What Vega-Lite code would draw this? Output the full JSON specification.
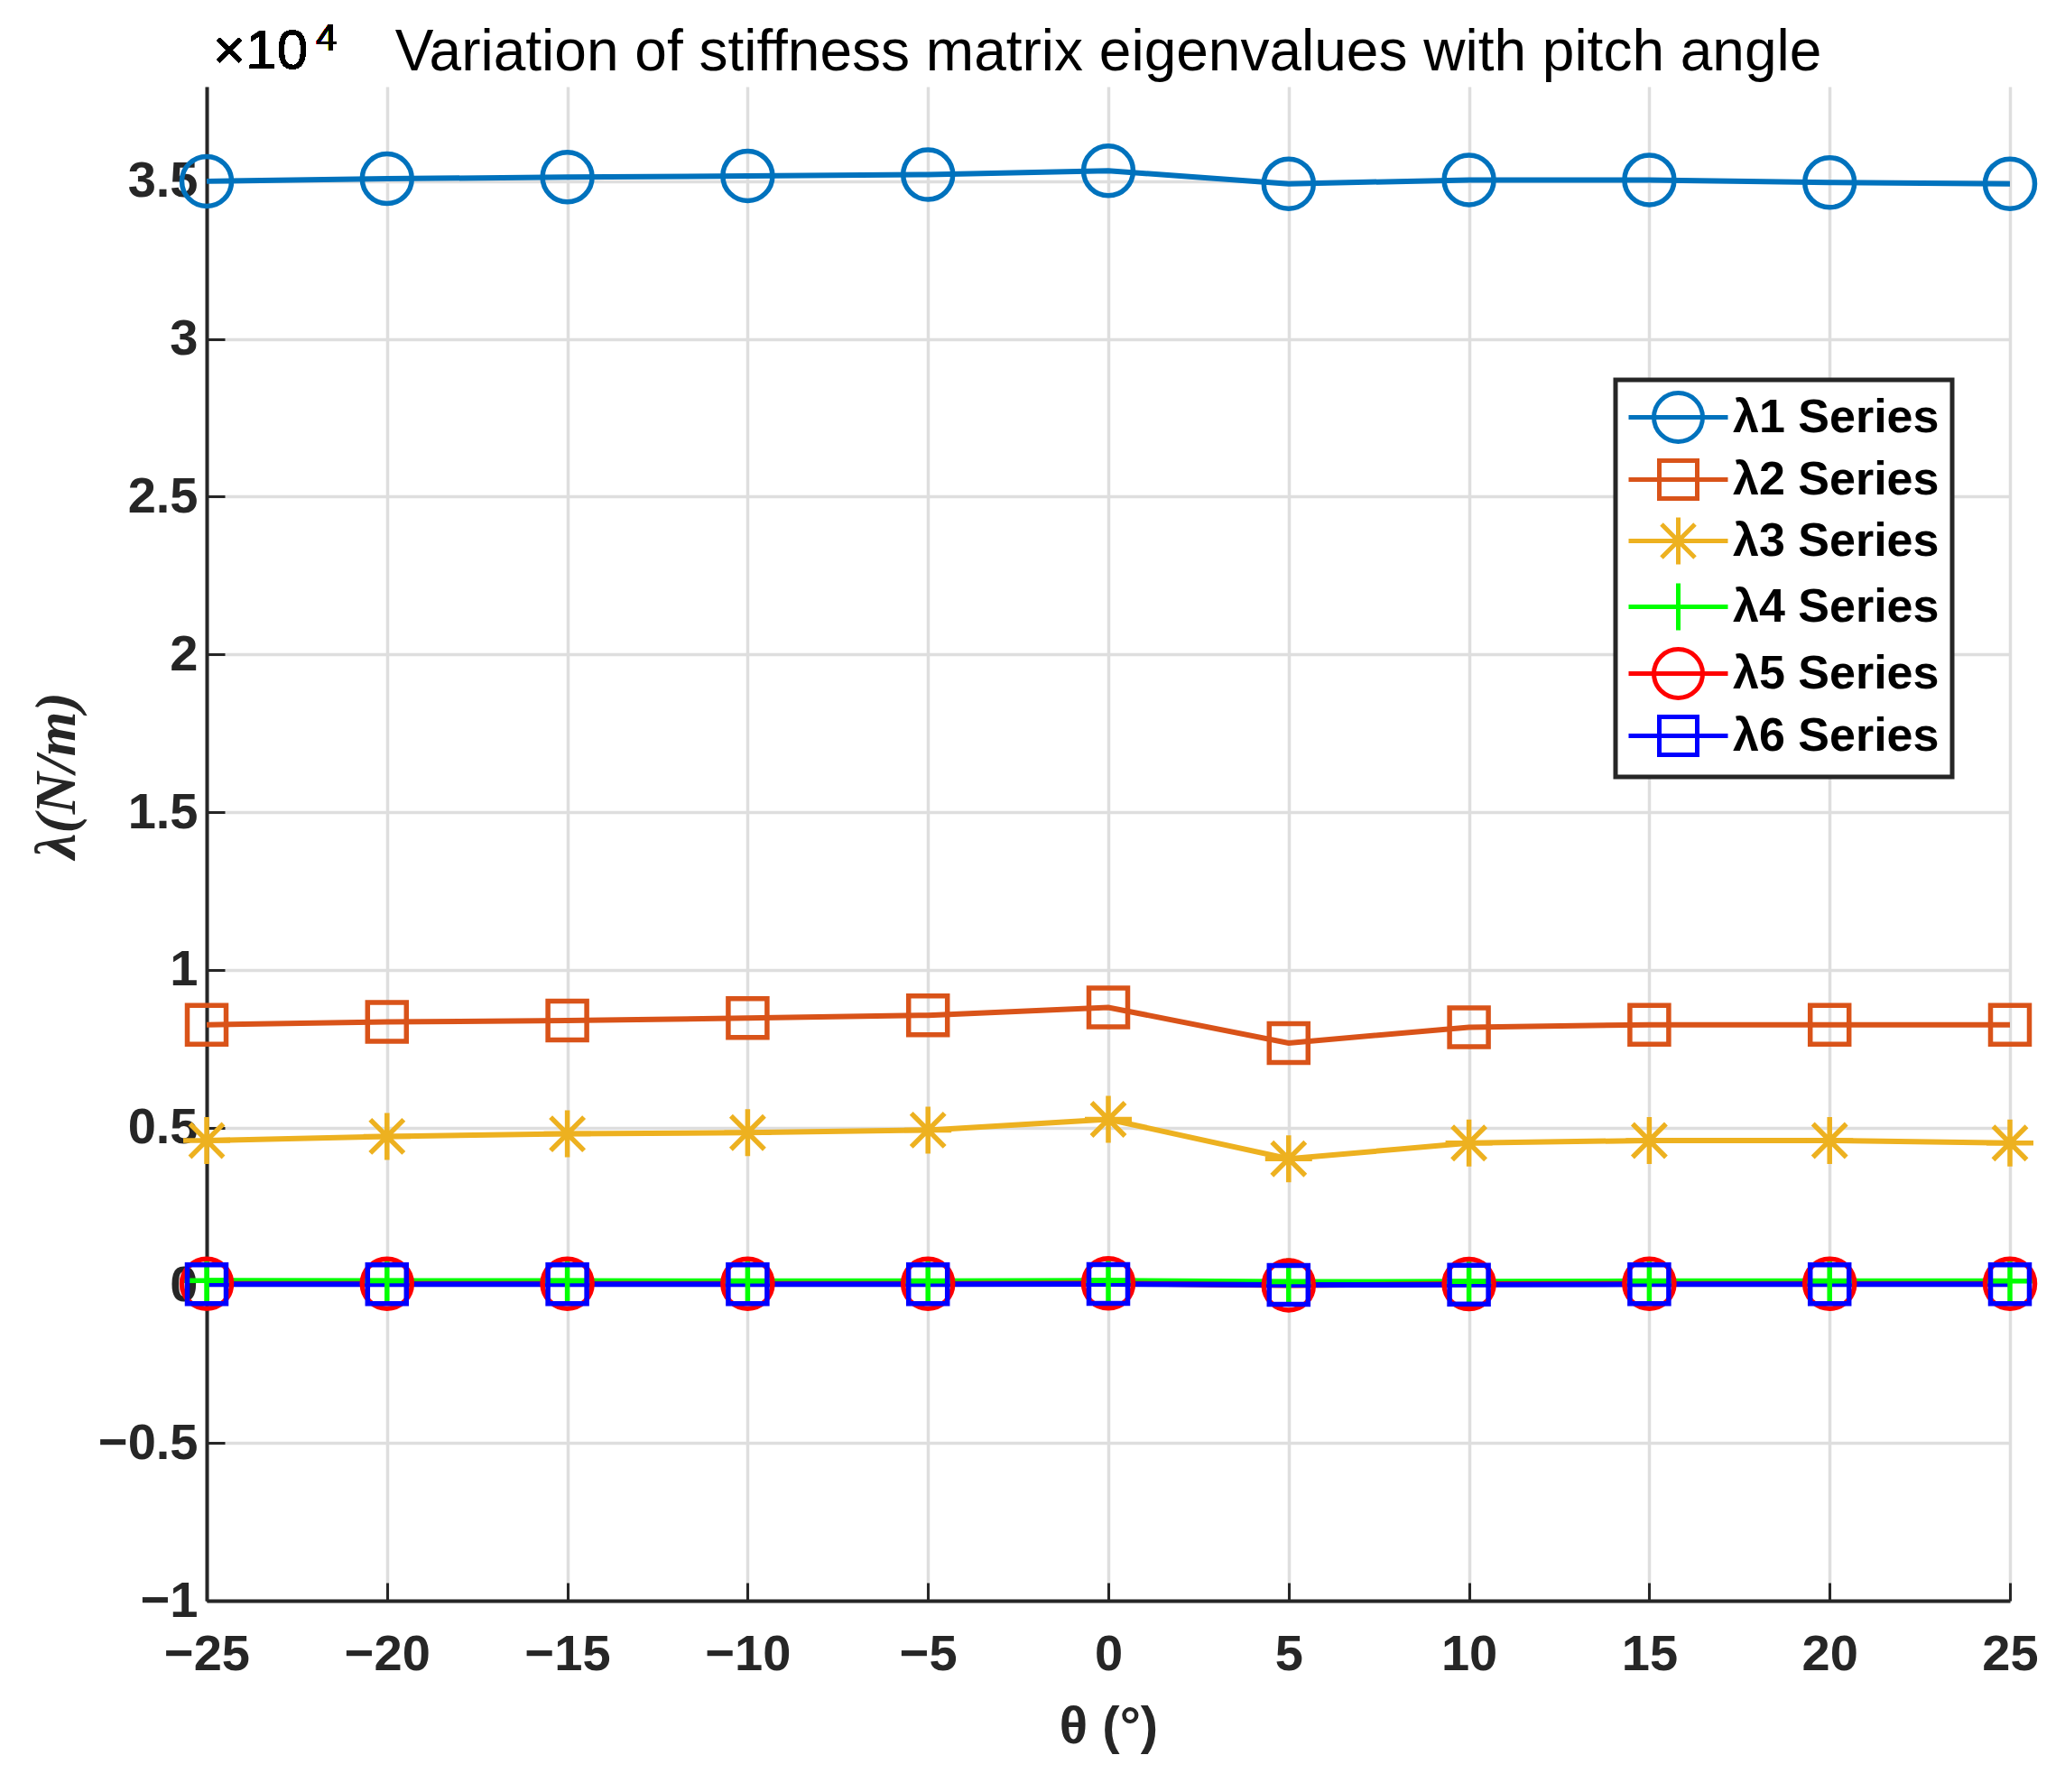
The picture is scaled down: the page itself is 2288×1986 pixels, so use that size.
{
  "$schema": "https://vega.github.io/schema/vega-lite/v6.json",
  "width": 1998,
  "height": 1678,
  "autosize": {"type": "none"},
  "padding": {"left": 229, "top": 96, "right": 61, "bottom": 212},
  "background": "white",
  "title": {
    "text": "Variation of stiffness matrix eigenvalues with pitch angle",
    "font": "Liberation Sans",
    "fontSize": 64,
    "fontWeight": "normal",
    "color": "black",
    "baseline": "alphabetic",
    "offset": -120
  },
  "data": {
    "values": [
      {"theta": -25, "series": "λ1 Series", "lambda": 35000},
      {"theta": -20, "series": "λ1 Series", "lambda": 35080},
      {"theta": -15, "series": "λ1 Series", "lambda": 35130},
      {"theta": -10, "series": "λ1 Series", "lambda": 35170},
      {"theta": -5, "series": "λ1 Series", "lambda": 35210},
      {"theta": 0, "series": "λ1 Series", "lambda": 35330},
      {"theta": 5, "series": "λ1 Series", "lambda": 34920},
      {"theta": 10, "series": "λ1 Series", "lambda": 35040},
      {"theta": 15, "series": "λ1 Series", "lambda": 35040},
      {"theta": 20, "series": "λ1 Series", "lambda": 34960},
      {"theta": 25, "series": "λ1 Series", "lambda": 34920},
      {"theta": -25, "series": "λ2 Series", "lambda": 8260},
      {"theta": -20, "series": "λ2 Series", "lambda": 8350},
      {"theta": -15, "series": "λ2 Series", "lambda": 8390},
      {"theta": -10, "series": "λ2 Series", "lambda": 8470},
      {"theta": -5, "series": "λ2 Series", "lambda": 8560},
      {"theta": 0, "series": "λ2 Series", "lambda": 8810},
      {"theta": 5, "series": "λ2 Series", "lambda": 7680},
      {"theta": 10, "series": "λ2 Series", "lambda": 8180},
      {"theta": 15, "series": "λ2 Series", "lambda": 8260},
      {"theta": 20, "series": "λ2 Series", "lambda": 8260},
      {"theta": 25, "series": "λ2 Series", "lambda": 8260},
      {"theta": -25, "series": "λ3 Series", "lambda": 4590},
      {"theta": -20, "series": "λ3 Series", "lambda": 4720},
      {"theta": -15, "series": "λ3 Series", "lambda": 4800},
      {"theta": -10, "series": "λ3 Series", "lambda": 4840},
      {"theta": -5, "series": "λ3 Series", "lambda": 4920},
      {"theta": 0, "series": "λ3 Series", "lambda": 5260},
      {"theta": 5, "series": "λ3 Series", "lambda": 4010},
      {"theta": 10, "series": "λ3 Series", "lambda": 4510},
      {"theta": 15, "series": "λ3 Series", "lambda": 4590},
      {"theta": 20, "series": "λ3 Series", "lambda": 4590},
      {"theta": 25, "series": "λ3 Series", "lambda": 4510},
      {"theta": -25, "series": "λ4 Series", "lambda": 150},
      {"theta": -20, "series": "λ4 Series", "lambda": 140},
      {"theta": -15, "series": "λ4 Series", "lambda": 140},
      {"theta": -10, "series": "λ4 Series", "lambda": 130},
      {"theta": -5, "series": "λ4 Series", "lambda": 130},
      {"theta": 0, "series": "λ4 Series", "lambda": 150},
      {"theta": 5, "series": "λ4 Series", "lambda": 110},
      {"theta": 10, "series": "λ4 Series", "lambda": 120},
      {"theta": 15, "series": "λ4 Series", "lambda": 130},
      {"theta": 20, "series": "λ4 Series", "lambda": 130},
      {"theta": 25, "series": "λ4 Series", "lambda": 130},
      {"theta": -25, "series": "λ5 Series", "lambda": 50},
      {"theta": -20, "series": "λ5 Series", "lambda": 50},
      {"theta": -15, "series": "λ5 Series", "lambda": 50},
      {"theta": -10, "series": "λ5 Series", "lambda": 50},
      {"theta": -5, "series": "λ5 Series", "lambda": 50},
      {"theta": 0, "series": "λ5 Series", "lambda": 60},
      {"theta": 5, "series": "λ5 Series", "lambda": 0},
      {"theta": 10, "series": "λ5 Series", "lambda": 40},
      {"theta": 15, "series": "λ5 Series", "lambda": 50},
      {"theta": 20, "series": "λ5 Series", "lambda": 50},
      {"theta": 25, "series": "λ5 Series", "lambda": 50},
      {"theta": -25, "series": "λ6 Series", "lambda": 30},
      {"theta": -20, "series": "λ6 Series", "lambda": 30},
      {"theta": -15, "series": "λ6 Series", "lambda": 30},
      {"theta": -10, "series": "λ6 Series", "lambda": 30},
      {"theta": -5, "series": "λ6 Series", "lambda": 30},
      {"theta": 0, "series": "λ6 Series", "lambda": 40},
      {"theta": 5, "series": "λ6 Series", "lambda": 10},
      {"theta": 10, "series": "λ6 Series", "lambda": 20},
      {"theta": 15, "series": "λ6 Series", "lambda": 30},
      {"theta": 20, "series": "λ6 Series", "lambda": 30},
      {"theta": 25, "series": "λ6 Series", "lambda": 30}
    ]
  },
  "encoding": {
    "x": {
      "field": "theta",
      "type": "quantitative",
      "title": "θ (°)",
      "scale": {"domain": [-25, 25], "nice": false, "zero": false},
      "axis": {
        "values": [-25, -20, -15, -10, -5, 0, 5, 10, 15, 20, 25],
        "labelExpr": "format(datum.value, '~g')",
        "labelFlush": false,
        "labelOverlap": false,
        "labelPadding": 52,
        "titlePadding": 24,
        "titleFontSize": 58
      }
    },
    "y": {
      "field": "lambda",
      "type": "quantitative",
      "title": "λ(N/m)",
      "scale": {"domain": [-10000, 38000], "nice": false, "zero": false},
      "axis": {
        "values": [-10000, -5000, 0, 5000, 10000, 15000, 20000, 25000, 30000, 35000],
        "labelExpr": "format(datum.value / 10000, '~g')",
        "labelFlush": false,
        "labelOverlap": false,
        "labelPadding": 30,
        "titleFont": "Liberation Serif",
        "titleFontStyle": "italic",
        "titleFontSize": 64,
        "titleAngle": -90,
        "titleAlign": "center",
        "titleBaseline": "middle",
        "titleX": -166,
        "titleY": 763
      }
    },
    "color": {
      "field": "series",
      "type": "nominal",
      "scale": {
        "domain": ["λ1 Series", "λ2 Series", "λ3 Series", "λ4 Series", "λ5 Series", "λ6 Series"],
        "range": ["#0072BD", "#D95319", "#EDB120", "#00FF00", "#FF0000", "#0000FF"]
      },
      "legend": {
        "title": null,
        "orient": "none",
        "legendX": 1561,
        "legendY": 325,
        "padding": 14,
        "rowPadding": 0,
        "symbolSize": 2500,
        "symbolOffset": 28,
        "symbolStrokeWidth": 5,
        "symbolOpacity": 1,
        "symbolFillColor": "transparent",
        "labelOffset": 33,
        "labelFont": "Liberation Sans",
        "labelFontWeight": "bold",
        "labelFontSize": 52,
        "labelColor": "black",
        "labelLimit": 400,
        "strokeColor": "#262626",
        "fillColor": "white"
      }
    }
  },
  "layer": [
    {
      "mark": {"type": "line", "strokeWidth": 6}
    },
    {
      "transform": [{"filter": {"field": "series", "oneOf": ["λ4 Series"]}}],
      "mark": {"type": "point", "shape": "M-1.04,0L1.04,0M0,-1.04L0,1.04", "filled": false, "size": 2500, "strokeWidth": 5.5, "opacity": 1}
    },
    {
      "transform": [{"filter": {"field": "series", "oneOf": ["λ1 Series", "λ5 Series"]}}],
      "mark": {"type": "point", "shape": "M-1.1,0A1.1,1.1,0,1,1,1.1,0A1.1,1.1,0,1,1,-1.1,0", "filled": false, "size": 2500, "strokeWidth": 5.5, "opacity": 1}
    },
    {
      "transform": [{"filter": {"field": "series", "oneOf": ["λ2 Series", "λ6 Series"]}}],
      "mark": {"type": "point", "shape": "M-0.86,-0.86L0.86,-0.86L0.86,0.86L-0.86,0.86Z", "filled": false, "size": 2500, "strokeWidth": 5.5, "opacity": 1}
    },
    {
      "transform": [{"filter": {"field": "series", "oneOf": ["λ3 Series"]}}],
      "mark": {"type": "point", "shape": "M-1.04,0L1.04,0M0,-1.04L0,1.04M-0.74,-0.74L0.74,0.74M-0.74,0.74L0.74,-0.74", "filled": false, "size": 2500, "strokeWidth": 5.5, "opacity": 1}
    },
    {
      "mark": {"type": "point", "filled": false, "size": 2500, "strokeWidth": 5, "opacity": 0},
      "encoding": {
        "shape": {
          "field": "series",
          "type": "nominal",
          "scale": {
            "domain": ["λ1 Series", "λ2 Series", "λ3 Series", "λ4 Series", "λ5 Series", "λ6 Series"],
            "range": [
              "M-2.2,0L2.2,0M-1.08,0A1.08,1.08,0,1,1,1.08,0A1.08,1.08,0,1,1,-1.08,0",
              "M-2.2,0L2.2,0M-0.84,-0.84L0.84,-0.84L0.84,0.84L-0.84,0.84Z",
              "M-2.2,0L2.2,0M0,-1.04L0,1.04M-0.74,-0.74L0.74,0.74M-0.74,0.74L0.74,-0.74",
              "M-2.2,0L2.2,0M0,-1.04L0,1.04",
              "M-2.2,0L2.2,0M-1.08,0A1.08,1.08,0,1,1,1.08,0A1.08,1.08,0,1,1,-1.08,0",
              "M-2.2,0L2.2,0M-0.84,-0.84L0.84,-0.84L0.84,0.84L-0.84,0.84Z"
            ]
          },
          "legend": {
            "title": null,
            "orient": "none",
            "legendX": 1561,
            "legendY": 325,
            "padding": 14,
            "rowPadding": 0,
            "symbolSize": 2500,
            "symbolOffset": 28,
            "symbolStrokeWidth": 5,
            "symbolOpacity": 1,
            "symbolFillColor": "transparent",
            "labelOffset": 33,
            "labelFont": "Liberation Sans",
            "labelFontWeight": "bold",
            "labelFontSize": 52,
            "labelColor": "black",
            "labelLimit": 400,
            "strokeColor": "#262626",
            "fillColor": "white"
          }
        }
      }
    },
    {
      "mark": {
        "type": "text",
        "text": "×10",
        "font": "Liberation Sans",
        "fontSize": 62,
        "align": "left",
        "baseline": "alphabetic",
        "dx": 7,
        "dy": -20,
        "clip": false
      },
      "encoding": {
        "x": {"datum": -25, "type": "quantitative"},
        "y": {"datum": 38000, "type": "quantitative"},
        "color": {"value": "black"}
      }
    },
    {
      "mark": {
        "type": "text",
        "text": "4",
        "font": "Liberation Sans",
        "fontSize": 42,
        "align": "left",
        "baseline": "alphabetic",
        "dx": 121,
        "dy": -40,
        "clip": false
      },
      "encoding": {
        "x": {"datum": -25, "type": "quantitative"},
        "y": {"datum": 38000, "type": "quantitative"},
        "color": {"value": "black"}
      }
    }
  ],
  "config": {
    "view": {"stroke": null},
    "legend": {"strokeWidth": 5},
    "axis": {
      "labelFont": "Liberation Sans",
      "labelFontWeight": "bold",
      "labelFontSize": 56,
      "labelColor": "#262626",
      "titleFont": "Liberation Sans",
      "titleFontWeight": "bold",
      "titleColor": "#262626",
      "domainColor": "#262626",
      "domainWidth": 4,
      "tickColor": "#262626",
      "tickWidth": 3,
      "tickSize": -20,
      "grid": true,
      "gridColor": "#dedede",
      "gridWidth": 3.5
    }
  }
}
